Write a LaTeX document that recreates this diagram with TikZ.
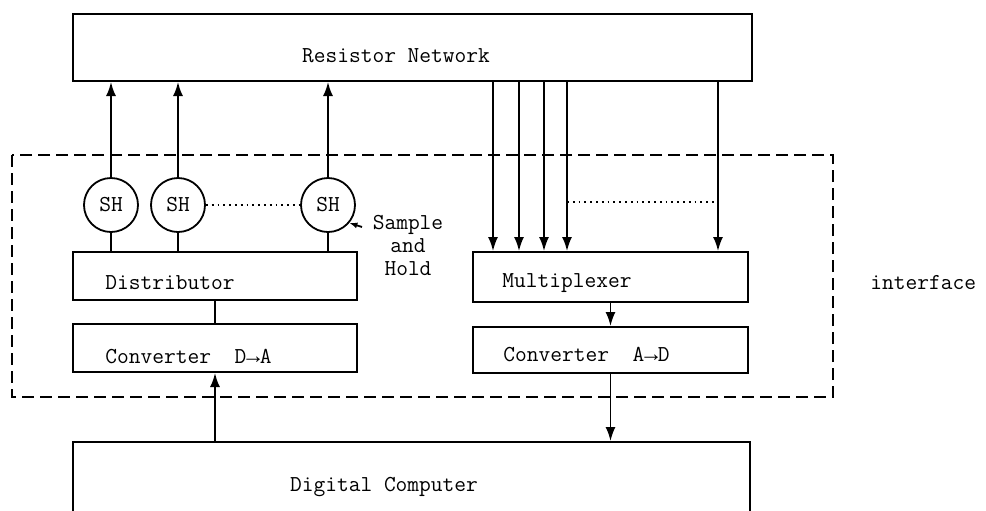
\documentclass[tikz,border=0pt]{standalone}
\usepackage{fontspec}
\newfontfamily\arrowfont{Liberation Mono}
\usetikzlibrary{arrows.meta}

\begin{document}
\begin{tikzpicture}[x=0.5pt,y=-0.5pt,
  blk/.style={draw, line width=1pt, inner sep=0pt},
  shc/.style={draw, circle, line width=0.9pt, minimum size=27pt, inner sep=0pt, font=\ttfamily\fontsize{11.4}{11.5}\selectfont},
  lbl/.style={font=\ttfamily\fontsize{11.4}{11.5}\selectfont, inner sep=0pt},
  conn/.style={line width=0.9pt},
  arr/.style={conn, -{Latex[length=7pt,width=5pt]}},
  dots/.style={line width=0.9pt, dotted},
  iface/.style={line width=1pt, dash pattern=on 6pt off 3pt}]
\useasboundingbox (0,0) rectangle (986,510);
\clip (0,0) rectangle (986,510);
% boxes
\node[blk, minimum width=339.5pt, minimum height=33.5pt] (rn) at (412.5,47.5) {};
\node[lbl] (rnt) at (396,56) {Resistor Network};
\node[blk, minimum width=142pt, minimum height=24pt] (dist) at (215,276) {};
\node[lbl, anchor=west] (distt) at (105,283) {Distributor};
\node[blk, minimum width=142pt, minimum height=24pt] (cda) at (215,348) {};
\node[lbl, anchor=west] (cdat) at (105,357) {Converter\ \ D{\arrowfont→}A};
\node[blk, minimum width=137.5pt, minimum height=25pt] (mux) at (610.5,277) {};
\node[lbl, anchor=west] (muxt) at (502,283) {Multiplexer};
\node[blk, minimum width=137.5pt, minimum height=23pt] (cad) at (610.5,350) {};
\node[lbl, anchor=west] (cadt) at (503,355) {Converter\ \ A{\arrowfont→}D};
\node[blk, minimum width=338.5pt, minimum height=49pt] (dc) at (411.5,491) {};
\node[lbl] (dct) at (384,487) {Digital Computer};
% sample and hold
\node[shc] (sh1) at (111,205) {SH};
\node[shc] (sh2) at (178,205) {SH};
\node[shc] (sh3) at (328,205) {SH};
\node[lbl, align=center] (shl) at (408,245) {Sample\\and\\Hold};
\coordinate (shtail) at (362,227);
% interface
\draw[iface] (12,155) rectangle (833,397);
\node[lbl, anchor=west] (ift) at (870,283) {interface};
% connectors
\foreach \s in {sh1,sh2,sh3} {
  \draw[arr] (\s.north) -- (\s.north |- rn.south);
  \draw[conn] (\s.south) -- (\s.south |- dist.north);
}
\draw[dots] (sh2.east) -- (sh3.west);
\draw[conn, -{Latex[length=4pt,width=3pt]}] (shtail) -- (sh3.-40);
\draw[conn] (dist.south) -- (cda.north);
\draw[arr] (dc.north -| cda.south) -- (cda.south);
\foreach \x [count=\i] in {493,519,544,567,718} {
  \coordinate (m\i) at (\x,0);
  \draw[arr] (rn.south -| m\i) -- (mux.north -| m\i);
}
\draw[dots] (m4 |- 0,202) -- (m5 |- 0,202);
\draw[arr] (mux.south) -- (cad.north);
\draw[arr] (cad.south) -- (cad.south |- dc.north);
\end{tikzpicture}
\end{document}
